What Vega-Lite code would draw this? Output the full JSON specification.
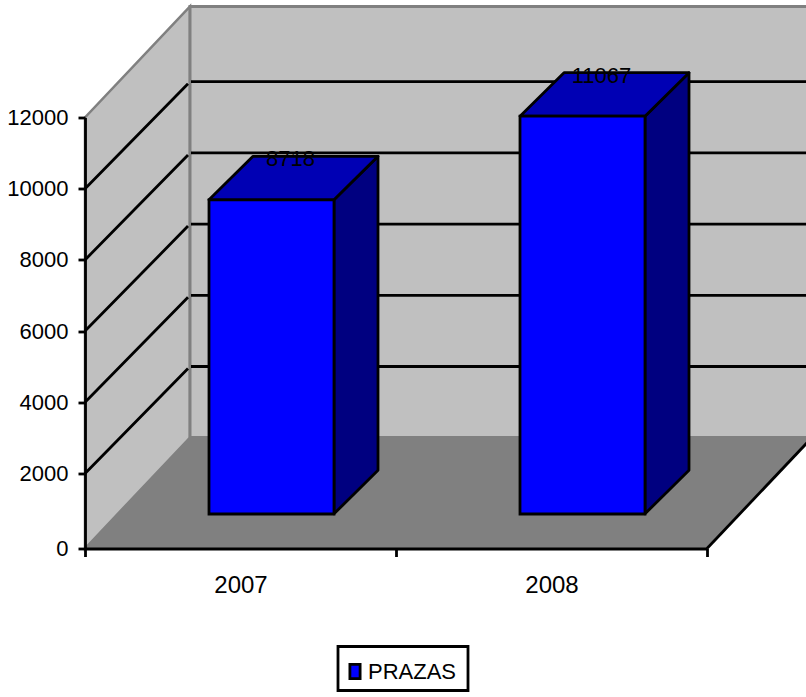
{
"$schema":"https://vega.github.io/schema/vega-lite/v6.json",
"width":622,"height":431,
"autosize":{"type":"none"},
"padding":{"left":85,"top":117.5,"right":99,"bottom":148.5},
"background":"white",
"view":{"stroke":null},
"config":{"font":"Liberation Sans"},
"datasets":{
 "bars":[{"year":2007,"value":8718,"series":"PRAZAS"},{"year":2008,"value":11067,"series":"PRAZAS"}],
 "grid":[{"level":2000},{"level":4000},{"level":6000},{"level":8000},{"level":10000}]
},
"layer":[
 {"data":{"values":[{"part":"left wall"}]},
  "mark":{"type":"point","shape":"M0,0L105,-111L105,-542L0,-431Z","size":4,"filled":true,"fill":"#C0C0C0","stroke":"#808080","strokeWidth":2.5,"opacity":1},
  "encoding":{
   "x":{"datum":2006.5,"type":"quantitative","scale":{"domain":[2006.5,2008.5],"nice":false,"zero":false,"padding":0},"axis":null},
   "y":{"datum":0,"type":"quantitative","scale":{"domain":[0,2000,12000],"range":[431,356,0],"nice":false,"zero":false},
    "axis":{"values":[0,2000,4000,6000,8000,10000,12000],"title":null,"grid":false,"format":"d","zindex":1,
     "domainColor":"black","domainWidth":2.8,"tickColor":"black","tickWidth":2.8,"tickSize":7,"labelPadding":10,
     "labelFontSize":22,"labelColor":"black","labelFont":"Liberation Sans","labelOverlap":false,"labelBaseline":"middle"}}}},
 {"data":{"values":[{"part":"back wall"}]},
  "mark":{"type":"point","shape":"M105,-111L830,-111L830,-542L105,-542Z","size":4,"filled":true,"fill":"#C0C0C0","stroke":"#808080","strokeWidth":3,"opacity":1},
  "encoding":{"x":{"datum":2006.5,"type":"quantitative","axis":null},"y":{"datum":0,"type":"quantitative"}}},
 {"data":{"values":[{"part":"floor"}]},
  "mark":{"type":"point","shape":"M0,0L105,-111L727,-111L622,0Z","size":4,"filled":true,"fill":"#808080","strokeWidth":0,"opacity":1},
  "encoding":{"x":{"datum":2006.5,"type":"quantitative","axis":null},"y":{"datum":0,"type":"quantitative"}}},
 {"data":{"values":[{"part":"floor edge"}]},
  "mark":{"type":"point","shape":"M622,0L727,-111","size":4,"filled":false,"stroke":"black","strokeWidth":2.8,"opacity":1},
  "encoding":{"x":{"datum":2006.5,"type":"quantitative","axis":null},"y":{"datum":0,"type":"quantitative"}}},
 {"data":{"values":[{"part":"legend frame"}]},
  "mark":{"type":"point","shape":"M253,98L383,98L383,142L253,142Z","size":4,"filled":false,"stroke":"black","strokeWidth":2.8,"opacity":1},
  "encoding":{"x":{"datum":2006.5,"type":"quantitative","axis":null},"y":{"datum":0,"type":"quantitative"}}},
 {"data":{"name":"grid"},
  "mark":{"type":"point","shape":"M0,0L103,-105M106,-107L730,-107","size":4,"filled":false,"stroke":"black","strokeWidth":2.8,"opacity":1},
  "encoding":{"x":{"datum":2006.5,"type":"quantitative","axis":null},"y":{"field":"level","type":"quantitative"}}},
 {"data":{"name":"bars"},
  "mark":{"type":"point","size":4,"filled":true,"fill":"#000080","stroke":"black","strokeWidth":2.8,"strokeJoin":"round","opacity":1,"xOffset":31,"yOffset":-34.5},
  "encoding":{"x":{"field":"year","type":"quantitative","axis":null},"y":{"field":"value","type":"quantitative"},
   "shape":{"field":"year","type":"ordinal","legend":null,"scale":{"domain":[2007,2008],"range":["M62.5,0L106.5,-43.5L106.5,270.5L62.5,314Z","M62.5,0L106.5,-43.5L106.5,354L62.5,397.6Z"]}}}},
 {"data":{"name":"bars"},
  "mark":{"type":"point","shape":"M-62.5,0L62.5,0L106.5,-43.5L-18.5,-43.5Z","size":4,"filled":true,"fill":"#0000B4","stroke":"black","strokeWidth":2.8,"strokeJoin":"round","opacity":1,"xOffset":31,"yOffset":-34.5},
  "encoding":{"x":{"field":"year","type":"quantitative","axis":null},"y":{"field":"value","type":"quantitative"}}},
 {"data":{"name":"bars"},
  "mark":{"type":"bar","width":125,"stroke":"black","strokeWidth":2.8,"xOffset":31,"yOffset":-34.5,"y2Offset":-34.5},
  "encoding":{"x":{"field":"year","type":"quantitative","axis":null},"y":{"field":"value","type":"quantitative"},"y2":{"datum":0},
   "color":{"field":"series","type":"nominal","scale":{"domain":["PRAZAS"],"range":["#0000FF"]},
    "legend":{"title":null,"orient":"none","legendX":249,"legendY":533,"padding":10,
     "symbolType":"M-0.85,-1.2H0.85V1.2H-0.85Z","symbolSize":144,"symbolStrokeColor":"black","symbolStrokeWidth":2.8,"labelFontSize":22,"labelFont":"Liberation Sans","labelColor":"black","labelOffset":2,"labelLimit":200}}}},
 {"data":{"name":"bars"},
  "mark":{"type":"text","fontSize":22,"font":"Liberation Sans","color":"black","baseline":"middle","align":"center","xOffset":50,"yOffset":-75},
  "encoding":{"x":{"field":"year","type":"quantitative","axis":null},"y":{"field":"value","type":"quantitative"},"text":{"field":"value","type":"quantitative","format":"d"}}},
 {"data":{"values":[{"part":"category axis"}]},
  "mark":{"type":"point","opacity":0,"size":1},
  "encoding":{"x":{"datum":2006.5,"type":"quantitative","axis":{"orient":"bottom","values":[2006.5,2007.5,2008.5],"title":null,"labels":false,"grid":false,"zindex":1,"domainColor":"black","domainWidth":3,"tickColor":"black","tickWidth":2.8,"tickSize":8}},"y":{"datum":0,"type":"quantitative"}}},
 {"data":{"name":"bars"},
  "mark":{"type":"point","opacity":0,"size":1},
  "encoding":{"x":{"field":"year","type":"quantitative","axis":{"orient":"bottom","values":[2007,2008],"format":"d","title":null,"grid":false,"domain":false,"ticks":false,"labelPadding":25,"labelFontSize":24,"labelColor":"black","labelFont":"Liberation Sans","zindex":1}},"y":{"datum":0,"type":"quantitative"}}}
],
"resolve":{"axis":{"x":"independent"},"scale":{"shape":"independent"}}
}
